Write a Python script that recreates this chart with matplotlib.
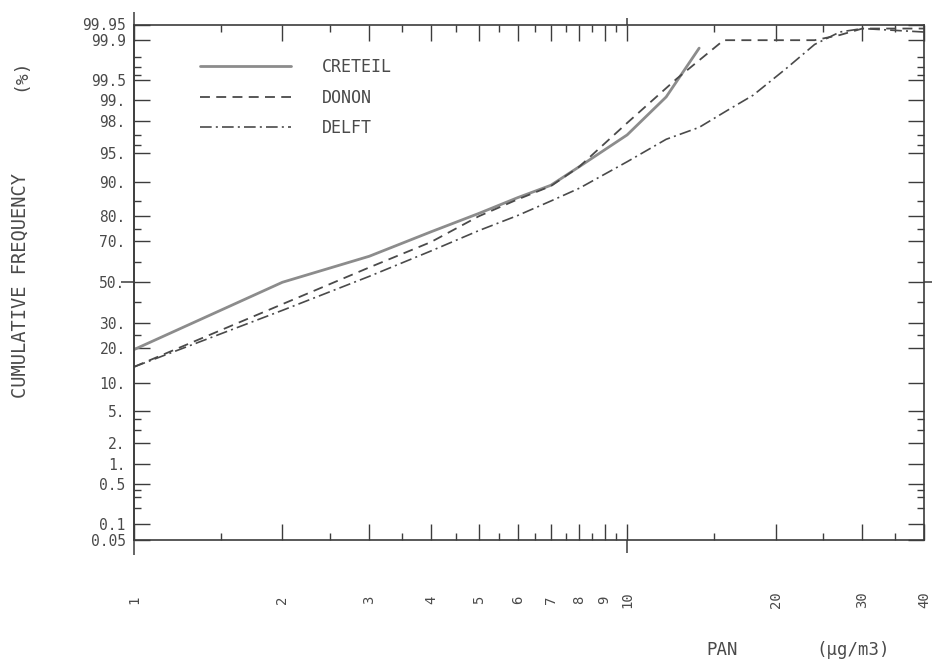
import numpy as np
import matplotlib
matplotlib.use("Agg")
import matplotlib.pyplot as plt
from matplotlib.ticker import FixedLocator, NullFormatter
from statistics import NormalDist

# ---------------- data ----------------
creteil_x = [1, 2, 3, 4, 5, 6, 7, 8, 10, 12, 14]
creteil_y = [19.5, 50, 63, 74, 81, 86, 89.2, 93, 97, 99.1, 99.86]

donon_x = [1, 2, 3, 4, 5, 6, 7, 8, 10, 12.6, 15.7, 24, 27, 30, 40]
donon_y = [14, 39, 57.5, 69.6, 80, 85.5, 89, 93, 97.9, 99.53, 99.9, 99.9, 99.92, 99.94, 99.94]

delft_x = [1, 2, 3, 4, 5, 6, 7, 8, 10, 12, 14, 16, 18, 21, 24, 27, 30, 40]
delft_y = [14, 36, 53, 65.5, 74.5, 80.3, 85, 88.5, 93.8, 96.6, 97.6, 98.6, 99.15, 99.68, 99.88, 99.93, 99.94, 99.93]

series_names = ["CRETEIL", "DONON", "DELFT"]

x_major = [1, 2, 3, 4, 5, 6, 7, 8, 9, 10, 20, 30, 40]
x_major_labels = ["1", "2", "3", "4", "5", "6", "7", "8", "9", "10", "20", "30", "40"]
x_minor = [1.5, 2.5, 3.5, 4.5, 5.5, 6.5, 7.5, 8.5, 9.5, 15, 25, 35]

y_major = [0.05, 0.1, 0.5, 1, 2, 5, 10, 20, 30, 50, 70, 80, 90, 95, 98, 99, 99.5, 99.9, 99.95]
y_major_labels = ["0.05", "0.1", "0.5", "1.", "2.", "5.", "10.", "20.", "30.", "50.",
                  "70.", "80.", "90.", "95.", "98.", "99.", "99.5", "99.9", "99.95"]
y_minor = [0.2, 0.3, 0.4, 3, 4, 25, 40, 60, 75, 85, 96, 97, 99.6, 99.7, 99.8]

# ---------------- probability scale ----------------
_nd = NormalDist()
_ppf = np.vectorize(_nd.inv_cdf, otypes=[float])
_cdf = np.vectorize(_nd.cdf, otypes=[float])


def fwd(p):
    p = np.asarray(p, dtype=float)
    q = np.clip(p / 100.0, 1e-9, 1 - 1e-9)
    return _ppf(q)


def inv(z):
    z = np.asarray(z, dtype=float)
    return 100.0 * _cdf(z)


TXT = "#4a4a4a"
AX = "#3c3c3c"
FONT = ["DejaVu Sans Mono", "DejaVu Sans"]
plt.rcParams["font.family"] = FONT

W, H = 933, 664
fig = plt.figure(figsize=(W / 100, H / 100), dpi=100)
left, right, top, bottom = 134, 924, 24.5, 540
ax = fig.add_axes([left / W, (H - bottom) / H, (right - left) / W, (bottom - top) / H])

ax.set_xscale("log")
ax.set_yscale("function", functions=(fwd, inv))
ax.set_xlim(1, 40)
ax.set_ylim(0.05, 99.95)

ax.plot(creteil_x, creteil_y, color="#8c8c8c", lw=2.0, solid_capstyle="round",
        label=series_names[0])
ax.plot(donon_x, donon_y, color="#4a4a4a", lw=1.3, linestyle=(0, (5.5, 3.5)),
        label=series_names[1])
ax.plot(delft_x, delft_y, color="#4a4a4a", lw=1.2, linestyle=(0, (7, 2.5, 1.2, 2.5)),
        label=series_names[2])

# ticks
ax.xaxis.set_major_locator(FixedLocator(x_major))
ax.xaxis.set_minor_locator(FixedLocator(x_minor))
ax.xaxis.set_minor_formatter(NullFormatter())
ax.set_xticks(x_major, labels=x_major_labels)
for t in ax.get_xticklabels():
    t.set_rotation(90)
    t.set_verticalalignment("center")
    t.set_horizontalalignment("center")

ax.yaxis.set_major_locator(FixedLocator(y_major))
ax.yaxis.set_minor_locator(FixedLocator(y_minor))
ax.yaxis.set_minor_formatter(NullFormatter())
ax.set_yticks(y_major, labels=y_major_labels)

ax.tick_params(axis="x", which="major", direction="in", top=True, bottom=True,
               length=11.5, width=1.0, color=AX, pad=43, labelsize=10, labelcolor=TXT)
ax.tick_params(axis="x", which="minor", direction="in", top=True, bottom=True,
               length=5, width=1.0, color=AX)
ax.tick_params(axis="y", which="major", direction="in", left=True, right=True,
               length=11.5, width=1.0, color=AX, pad=6, labelsize=10.5, labelcolor=TXT)
ax.tick_params(axis="y", which="minor", direction="in", left=True, right=True,
               length=5, width=1.0, color=AX)

for s in ax.spines.values():
    s.set_color(AX)
    s.set_linewidth(1.2)

# axis decorations: extended crossing ticks
xt = ax.get_xaxis_transform()
yt = ax.get_yaxis_transform()
deco = dict(color=AX, lw=1.1, clip_on=False, solid_capstyle="butt")
ax.plot([1, 1], [-0.03, 1.025], transform=xt, **deco)
ax.plot([10, 10], [-0.025, 0.0], transform=xt, **deco)
ax.plot([10, 10], [1.0, 1.012], transform=xt, **deco)
ax.plot([-0.017, 0.0], [50, 50], transform=yt, **deco)
ax.plot([1.0, 1.01], [50, 50], transform=yt, **deco)

# legend
leg = ax.legend(loc="upper left", bbox_to_anchor=(0.083, 0.935), frameon=False,
                borderpad=0, borderaxespad=0, handlelength=5.5, handletextpad=1.85,
                labelspacing=0.75, prop={"family": FONT, "size": 12})
for t in leg.get_texts():
    t.set_color(TXT)

# axis titles
fig.text(20 / W, 1 - 285 / H, "CUMULATIVE FREQUENCY", rotation=90, ha="center",
         va="center", fontsize=13.5, color=TXT)
fig.text(20 / W, 1 - 75 / H, "(%)", rotation=90, ha="center", va="center",
         fontsize=13, color=TXT)
fig.text(722 / W, 1 - 650 / H, "PAN", ha="center", va="center", fontsize=12.5, color=TXT)
fig.text(853 / W, 1 - 650 / H, "(\u00b5g/m3)", ha="center", va="center",
         fontsize=12.5, color=TXT)

fig.savefig("out.png", dpi=100)
